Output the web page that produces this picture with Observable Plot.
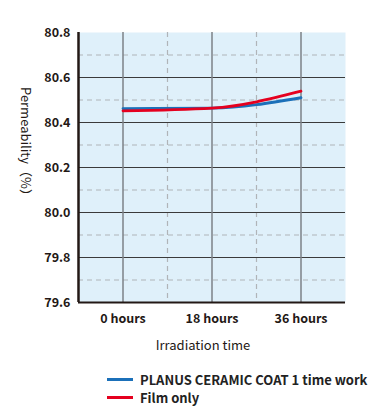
<!DOCTYPE html>
<html>
<head>
<meta charset="utf-8">
<script src="https://cdn.jsdelivr.net/npm/d3@7"></script>
<script src="https://cdn.jsdelivr.net/npm/@observablehq/plot@0.6"></script>
<style>
  html, body { margin: 0; padding: 0; background: #fff; }
  body { width: 370px; height: 415px; overflow: hidden; font-family: "Noto Sans CJK JP", "Noto Sans", sans-serif; }
  #legend { position: absolute; left: 107px; top: 370px; font-size: 13px; font-weight: bold; color: #222; }
  .item { display: flex; align-items: center; height: 18px; }
  .sw { width: 26px; height: 3px; margin-right: 7px; }
</style>
</head>
<body>
<div id="chart"></div>
<div id="legend"></div>
<script>
const times = ["0 hours", "18 hours", "36 hours"];
const planus = [80.462, 80.464, 80.51];
const filmOnly = [80.452, 80.464, 80.539];
const seriesNames = ["PLANUS CERAMIC COAT 1 time work", "Film only"];
const seriesColors = ["#1b70b9", "#e5001f"];
const yTicks = [79.6, 79.8, 80.0, 80.2, 80.4, 80.6, 80.8];
const yMinor = [79.7, 79.9, 80.1, 80.3, 80.5, 80.7];

const rows = [];
times.forEach((t, i) => {
  rows.push({i, t, v: planus[i], s: seriesNames[0]});
});
times.forEach((t, i) => {
  rows.push({i, t, v: filmOnly[i], s: seriesNames[1]});
});
const font = '"Noto Sans CJK JP", "Noto Sans", sans-serif';

const chart = Plot.plot({
  width: 370,
  height: 362,
  marginTop: 32,
  marginBottom: 60,
  marginLeft: 78,
  marginRight: 25,
  style: {fontFamily: font, background: "transparent", overflow: "visible"},
  x: {type: "linear", domain: [-0.5, times.length - 0.5], axis: null},
  y: {domain: [yTicks[0], yTicks[yTicks.length - 1]], axis: null},
  color: {domain: seriesNames, range: seriesColors},
  marks: [
    Plot.frame({fill: "#dff0fa", stroke: "none"}),
    Plot.ruleY(yMinor, {stroke: "#b0b4b8", strokeWidth: 1.2, strokeDasharray: "5,4"}),
    Plot.ruleX(times.slice(1).map((d, i) => i + 0.5), {stroke: "#b0b4b8", strokeWidth: 1.2, strokeDasharray: "5,4"}),
    Plot.ruleY(yTicks.slice(1, -1), {stroke: "#3a3a3a", strokeWidth: 1}),
    Plot.ruleX(times.map((d, i) => i), {stroke: "#7d8287", strokeWidth: 1.5}),
    Plot.line(rows, {x: "i", y: "v", stroke: "s", z: "s", strokeWidth: 2.8, curve: "monotone-x"}),
    Plot.ruleX([-0.5], {stroke: "#231815", strokeWidth: 2.5}),
    Plot.ruleY([yTicks[0]], {stroke: "#231815", strokeWidth: 2}),
    Plot.axisY(yTicks, {tickSize: 0, tickPadding: 8, tickFormat: d => d.toFixed(1), fontSize: 12.5, fontWeight: "bold", fill: "#231815", label: null}),
    Plot.axisX(times.map((d, i) => i), {tickSize: 0, tickPadding: 12, tickFormat: i => times[i], fontSize: 12.5, fontWeight: "bold", fill: "#231815", label: null}),
    Plot.text(["Irradiation time"], {frameAnchor: "bottom", dx: -9, dy: 47, fontSize: 13, fill: "#231815"}),
    Plot.text(["Permeability（%）"], {frameAnchor: "left", textAnchor: "middle", dx: -53, dy: -23, rotate: 90, fontSize: 13, fill: "#231815"})
  ]
});
document.getElementById("chart").appendChild(chart);

const legend = document.getElementById("legend");
seriesNames.forEach((n, k) => {
  const it = document.createElement("div");
  it.className = "item";
  const sw = document.createElement("div");
  sw.className = "sw";
  sw.style.background = seriesColors[k];
  const tx = document.createElement("span");
  tx.textContent = n;
  it.appendChild(sw);
  it.appendChild(tx);
  legend.appendChild(it);
});
</script>
</body>
</html>
